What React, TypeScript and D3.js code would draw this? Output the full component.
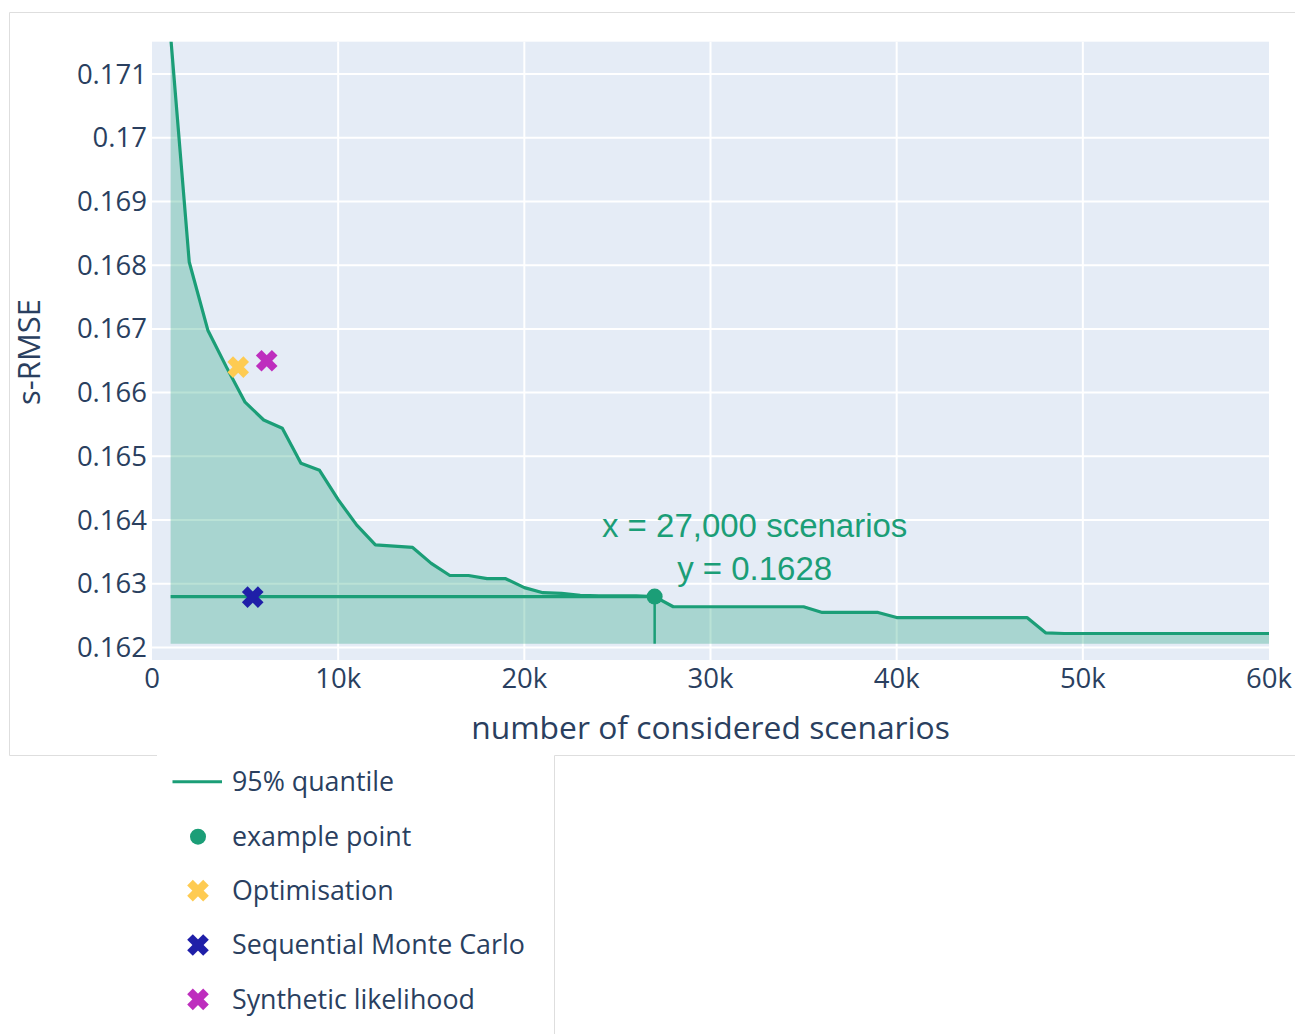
import * as d3 from "d3";

// 95% quantile of s-RMSE against number of considered scenarios (in thousands)
const scenariosK = [
  1, 2, 3, 4, 5, 6, 7, 8, 9, 10, 11, 12, 13, 14, 15, 16, 17, 18, 19, 20,
  21, 22, 23, 24, 25, 26, 27, 28, 29, 30, 31, 32, 33, 34, 35, 36, 37, 38, 39, 40,
  41, 42, 43, 44, 45, 46, 47, 48, 49, 50, 51, 52, 53, 54, 55, 56, 57, 58, 59, 60,
];
const quantile95 = [
  0.1716, 0.16805, 0.16698, 0.1664, 0.16585, 0.16557, 0.16544, 0.16489, 0.16478, 0.16432,
  0.16392, 0.16361, 0.16359, 0.16357, 0.16332, 0.16313, 0.16313, 0.16308, 0.16308, 0.16294,
  0.16286, 0.16285, 0.16282, 0.16281, 0.16281, 0.16281, 0.1628, 0.16264, 0.16264, 0.16264,
  0.16264, 0.16264, 0.16264, 0.16264, 0.16264, 0.16255, 0.16255, 0.16255, 0.16255, 0.16247,
  0.16247, 0.16247, 0.16247, 0.16247, 0.16247, 0.16247, 0.16247, 0.16223, 0.16222, 0.16222,
  0.16222, 0.16222, 0.16222, 0.16222, 0.16222, 0.16222, 0.16222, 0.16222, 0.16222, 0.16222,
];
const fillBase = 0.16206;

// example point
const exampleX = 27000;
const exampleY = 0.1628;

// other methods
const methodNames = ["Optimisation", "Sequential Monte Carlo", "Synthetic likelihood"];
const methodX = [4630, 5410, 6160];
const methodY = [0.1664, 0.16279, 0.1665];
const methodColors = ["#FECB52", "#1F1FA8", "#BE2EBE"];

const xTicks = [0, 10000, 20000, 30000, 40000, 50000, 60000];
const xTickLabels = ["0", "10k", "20k", "30k", "40k", "50k", "60k"];
const yTicks = [0.162, 0.163, 0.164, 0.165, 0.166, 0.167, 0.168, 0.169, 0.17, 0.171];
const yTickLabels = ["0.162", "0.163", "0.164", "0.165", "0.166", "0.167", "0.168", "0.169", "0.17", "0.171"];

const W = 1300;
const H = 1034;
const green = "#1b9e77";
const ink = "#2a3f5f";
const sans = "'Open Sans', 'Noto Sans', sans-serif";

const plot = { left: 152, right: 1269, top: 41.7, bottom: 660 };

// thick x marker
const XMark = ({ cx, cy, color }: { cx: number; cy: number; color: string }) => {
  const d = 8;
  return (
    <g transform={`translate(${cx},${cy})`} stroke={color} strokeWidth={8}>
      <line x1={-d} y1={-d} x2={d} y2={d} />
      <line x1={-d} y1={d} x2={d} y2={-d} />
    </g>
  );
};

const App = () => {
  const x = d3.scaleLinear().domain([0, 60000]).range([plot.left, plot.right]);
  const y = d3.scaleLinear().domain([0.161804, 0.171507]).range([plot.bottom, plot.top]);

  const pts = scenariosK.map((k, i) => ({ x: k * 1000, y: quantile95[i] }));
  const area = d3
    .area<{ x: number; y: number }>()
    .x((d) => x(d.x))
    .y0(y(fillBase))
    .y1((d) => y(d.y));
  const line = d3
    .line<{ x: number; y: number }>()
    .x((d) => x(d.x))
    .y((d) => y(d.y));

  const ex = x(exampleX);
  const ey = y(exampleY);

  // legend rows
  const legendY = [781.7, 836.7, 890.7, 945, 999.3];

  return (
    <svg
      width={W}
      height={H}
      style={{ position: "absolute", left: 0, top: 0, background: "#fff" }}
    >
      {/* screenshot frame */}
      <g stroke="#dedede" strokeWidth={1} fill="none">
        <line x1={9.5} y1={12.5} x2={1295} y2={12.5} />
        <line x1={9.5} y1={12.5} x2={9.5} y2={755.5} />
        <line x1={9.5} y1={755.5} x2={157} y2={755.5} />
        <line x1={554.5} y1={755.5} x2={1295} y2={755.5} />
        <line x1={554.5} y1={755.5} x2={554.5} y2={H} />
      </g>

      <defs>
        <clipPath id="plotclip">
          <rect x={plot.left} y={plot.top} width={plot.right - plot.left} height={plot.bottom - plot.top} />
        </clipPath>
      </defs>

      <rect
        x={plot.left}
        y={plot.top}
        width={plot.right - plot.left}
        height={plot.bottom - plot.top}
        fill="#E5ECF6"
      />
      {/* gridlines */}
      <g stroke="#fff" strokeWidth={2}>
        {xTicks.slice(1, -1).map((t) => (
          <line key={t} x1={x(t)} x2={x(t)} y1={plot.top} y2={plot.bottom} />
        ))}
        {yTicks.map((t) => (
          <line key={t} x1={plot.left} x2={plot.right} y1={y(t)} y2={y(t)} />
        ))}
      </g>

      <g clipPath="url(#plotclip)">
        <path d={area(pts) ?? ""} fill={green} fillOpacity={0.3} />
        <path d={line(pts) ?? ""} fill="none" stroke={green} strokeWidth={3.2} strokeLinejoin="round" />
        {/* example point guides */}
        <line x1={x(scenariosK[0] * 1000)} x2={ex} y1={ey} y2={ey} stroke={green} strokeWidth={3.2} />
        <line x1={ex} x2={ex} y1={ey} y2={y(fillBase)} stroke={green} strokeWidth={2.5} />
        <circle cx={ex} cy={ey} r={8} fill={green} />
        {methodNames.map((m, i) => (
          <XMark key={m} cx={x(methodX[i])} cy={y(methodY[i])} color={methodColors[i]} />
        ))}
      </g>

      {/* annotation */}
      <g fill={green} fontFamily="'Liberation Sans', Arial, sans-serif" fontSize={33} textAnchor="middle">
        <text x={ex + 100} y={ey - 59.5}>x = 27,000 scenarios</text>
        <text x={ex + 100} y={ey - 16.5}>y = 0.1628</text>
      </g>

      {/* axes */}
      <g fill={ink} fontFamily={sans} fontSize={27.5}>
        {yTicks.map((t, i) => (
          <text key={t} x={147} y={y(t) + 9.5} textAnchor="end">
            {yTickLabels[i]}
          </text>
        ))}
        {xTicks.map((t, i) => (
          <text key={t} x={x(t)} y={687.5} textAnchor="middle">
            {xTickLabels[i]}
          </text>
        ))}
      </g>
      <text
        x={(plot.left + plot.right) / 2}
        y={738.5}
        textAnchor="middle"
        fill={ink}
        fontFamily={sans}
        fontSize={31.8}
      >
        number of considered scenarios
      </text>
      <text
        transform="translate(40,352) rotate(-90)"
        textAnchor="middle"
        fill={ink}
        fontFamily={sans}
        fontSize={31}
      >
        s-RMSE
      </text>

      {/* legend */}
      <g fontFamily={sans} fontSize={26.8} fill={ink}>
        <line x1={172.5} x2={222} y1={legendY[0]} y2={legendY[0]} stroke={green} strokeWidth={3} />
        <text x={232} y={legendY[0] + 9.3}>95% quantile</text>
        <circle cx={198} cy={legendY[1]} r={8} fill={green} />
        <text x={232} y={legendY[1] + 9.3}>example point</text>
        {methodNames.map((m, i) => (
          <g key={m}>
            <XMark cx={198} cy={legendY[i + 2]} color={methodColors[i]} />
            <text x={232} y={legendY[i + 2] + 9.3}>{m}</text>
          </g>
        ))}
      </g>
    </svg>
  );
};

export default App;
